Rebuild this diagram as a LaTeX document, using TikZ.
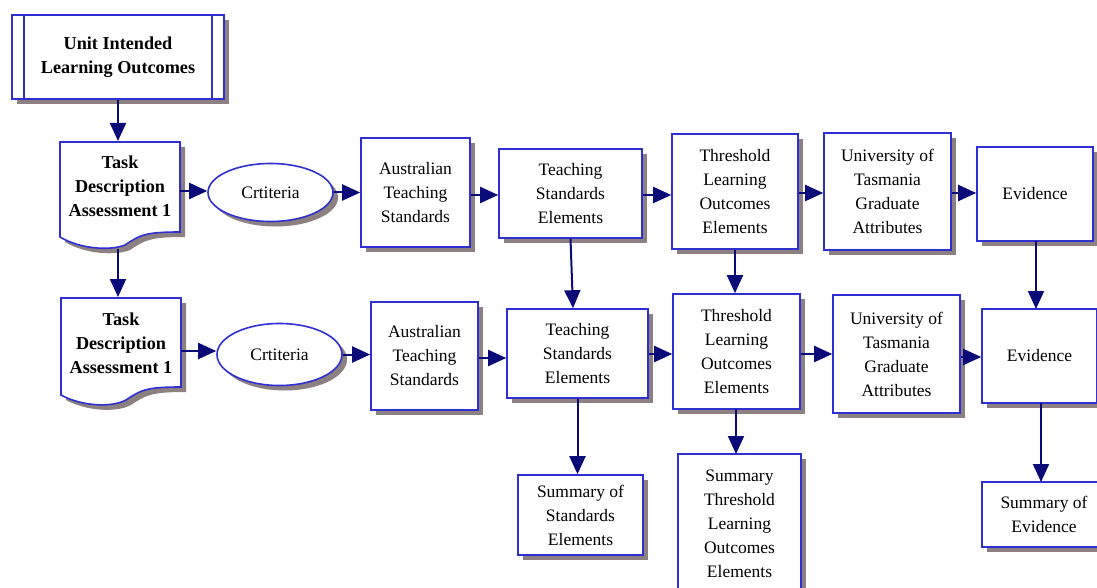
\documentclass[tikz,border=0pt]{standalone}
\usepackage{fontspec}
\setmainfont{Liberation Serif}
\usetikzlibrary{arrows.meta,shadows,shapes.geometric,calc}
\definecolor{bord}{RGB}{48,48,210}
\definecolor{arr}{RGB}{10,10,120}
\definecolor{shad}{RGB}{140,128,128}
\begin{document}
\begin{tikzpicture}[x=1pt,y=-1pt,
  shadowed/.style={drop shadow={shadow xshift=5pt,shadow yshift=-5pt,fill=shad,opacity=1}},
  txt/.style={align=center,font=\fontsize{17.5}{24}\selectfont,inner sep=0pt},
  box/.style={txt,draw=bord,line width=1.6pt,fill=white,shadowed},
  oval/.style={txt,ellipse,draw=bord,line width=1.6pt,fill=white,shadowed,inner sep=0pt},
  bold/.style={txt,font=\fontsize{18.2}{24}\selectfont\bfseries},
  link/.style={draw=arr,line width=2pt,-{Triangle[length=18pt,width=16pt]}}]
\useasboundingbox (0,0) rectangle (1097,588);

% Unit Intended Learning Outcomes
\node[box,minimum width=212pt,minimum height=84pt] (ilo) at (118,57) {};
\draw[bord,line width=1.6pt] (24,15) -- (24,99) (212,15) -- (212,99);
\node[bold] (ilot) at (118,57) {Unit Intended\\Learning Outcomes};

% Task documents
\fill[shad] (65,147) -- (185,147) -- (185,237) .. controls (150,237) and (145,240) .. (130,250) .. controls (115,256) and (85,254) .. (65,242) -- cycle;
\draw[bord,line width=1.6pt,fill=white] (60,142) -- (180,142) -- (180,232) .. controls (145,232) and (140,235) .. (125,245) .. controls (110,251) and (80,249) .. (60,237) -- cycle;
\node[bold] (task1) at (120,186) {Task\\Description\\Assessment 1};

\fill[shad] (66,303) -- (186,303) -- (186,392) .. controls (151,392) and (146,395) .. (131,405) .. controls (116,413) and (86,411) .. (66,400) -- cycle;
\draw[bord,line width=1.6pt,fill=white] (61,298) -- (181,298) -- (181,387) .. controls (146,387) and (141,390) .. (126,400) .. controls (111,408) and (81,406) .. (61,395) -- cycle;
\node[bold] (task2) at (121,343) {Task\\Description\\Assessment 1};

% Row 1
\node[oval,minimum width=125pt,minimum height=58pt] (cr1) at (270.5,192.5) {Crtiteria};
\node[box,minimum width=109pt,minimum height=109pt] (ats1) at (415.5,192.5) {Australian\\Teaching\\Standards};
\node[box,minimum width=143pt,minimum height=89pt] (tse1) at (570.5,193.5) {Teaching\\Standards\\Elements};
\node[box,minimum width=126pt,minimum height=115pt] (tloe1) at (735,191.5) {Threshold\\Learning\\Outcomes\\Elements};
\node[box,minimum width=127pt,minimum height=117pt] (utga1) at (887.5,191.5) {University of\\Tasmania\\Graduate\\Attributes};
\node[box,minimum width=116pt,minimum height=94pt] (ev1) at (1035,194) {Evidence};

% Row 2
\node[oval,minimum width=125pt,minimum height=62pt] (cr2) at (279.5,354.5) {Crtiteria};
\node[box,minimum width=107pt,minimum height=108pt] (ats2) at (424.5,356) {Australian\\Teaching\\Standards};
\node[box,minimum width=141pt,minimum height=89pt] (tse2) at (577.5,353.5) {Teaching\\Standards\\Elements};
\node[box,minimum width=127pt,minimum height=115pt] (tloe2) at (736.5,351.5) {Threshold\\Learning\\Outcomes\\Elements};
\node[box,minimum width=127pt,minimum height=118pt] (utga2) at (896.5,354) {University of\\Tasmania\\Graduate\\Attributes};
\node[box,minimum width=115pt,minimum height=94pt] (ev2) at (1039.5,356) {Evidence};

% Row 3
\node[box,minimum width=125pt,minimum height=80pt] (sstd) at (580.5,515) {Summary of\\Standards\\Elements};
\node[box,minimum width=123pt,minimum height=140pt] (stloe) at (739.5,524) {Summary\\Threshold\\Learning\\Outcomes\\Elements};
\node[box,minimum width=124pt,minimum height=65pt] (sev) at (1044,514.5) {Summary of\\Evidence};

% Connectors
\draw[link] (ilo.south) -- (ilo.south |- 0,141);
\draw[link] (118,249) -- (118,297);
\draw[link] (180,191) -- (cr1.west |- 0,191);
\draw[link] (cr1.east) -- (ats1.west |- cr1.east);
\draw[link] (ats1.east |- 0,195) -- (tse1.west |- 0,195);
\draw[link] (tse1.east |- 0,195) -- (tloe1.west |- 0,195);
\draw[link] (tloe1.east |- 0,193) -- (utga1.west |- 0,193);
\draw[link] (utga1.east |- 0,193) -- (ev1.west |- 0,193);

\draw[link] (181,351) -- (cr2.west |- 0,351);
\draw[link] (cr2.east) -- (ats2.west |- cr2.east);
\draw[link] (ats2.east |- 0,358) -- (tse2.west |- 0,358);
\draw[link] (tse2.east |- 0,354) -- (tloe2.west |- 0,354);
\draw[link] (tloe2.east |- 0,354) -- (utga2.west |- 0,354);
\draw[link] (utga2.east |- 0,357) -- (ev2.west |- 0,357);

\draw[link] (tse1.south) -- ($(tse2.north)+(-4.5,0)$);
\draw[link] (tloe1.south) -- (tloe1.south |- tloe2.north);
\draw[link] (1036,241) -- (1036,309);
\draw[link] (tse2.south) -- (tse2.south |- sstd.north);
\draw[link] (736,409) -- (736,454);
\draw[link] (1041,403) -- (1041,482);
\end{tikzpicture}
\end{document}
